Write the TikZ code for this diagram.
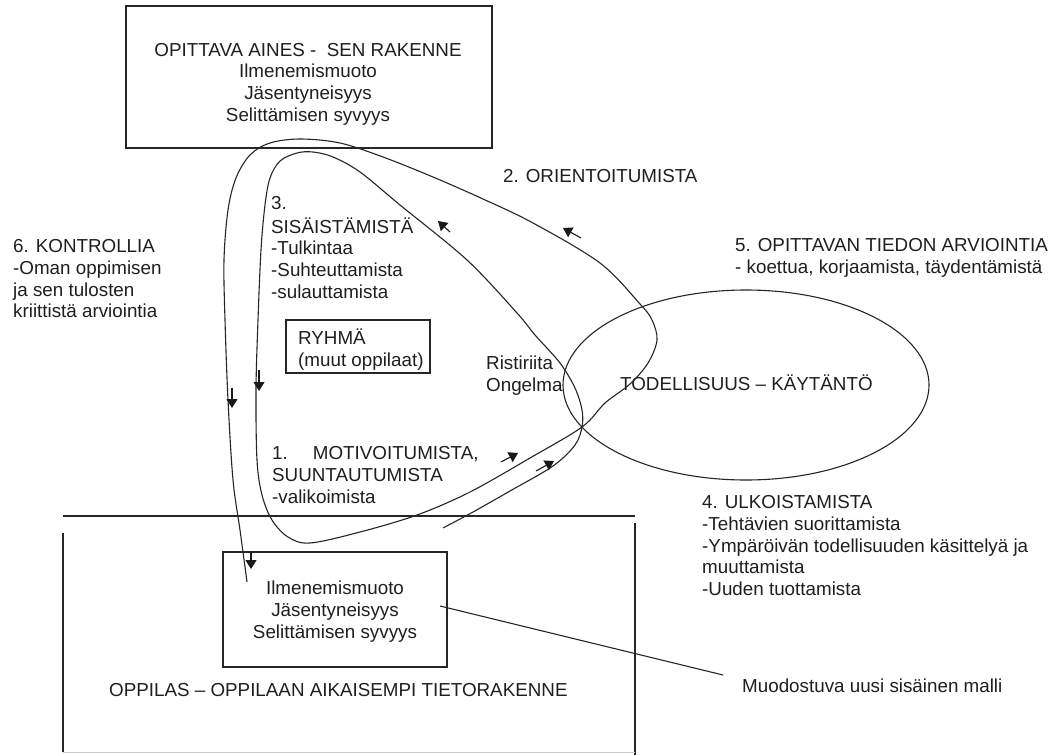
\documentclass[tikz,border=0pt]{standalone}
\usepackage{fontspec}
\setmainfont{Liberation Sans}
\usetikzlibrary{arrows.meta,shapes.geometric}
\begin{document}
\begin{tikzpicture}[x=1pt,y=-1pt,
  txt/.style={inner sep=0pt, font=\fontsize{18.8}{21.7}\selectfont, text=black!88},
  lbox/.style={draw=black!85, line width=1.3pt, inner sep=0pt},
  crv/.style={draw=black!85, line width=1.1pt},
  arr/.style={draw=black!90, line width=1.1pt, -{Triangle[width=11pt,length=9pt]}},
]
\useasboundingbox (0,0) rectangle (1055,755);
\fill[white] (0,0) rectangle (1055,755);

% boxes
\node[lbox, minimum width=366pt, minimum height=142pt] (topbox) at (309,77) {};
\node[lbox, minimum width=224pt, minimum height=115pt] (innerbox) at (335,609.5) {};
\node[lbox, minimum width=144pt, minimum height=53pt] (ryhbox) at (358,346.5) {};
\node[draw=black!85, line width=1.1pt, ellipse, inner sep=0pt, minimum width=366pt, minimum height=190pt] (real) at (746,385) {};

% big lower box (open frame)
\coordinate (bt1) at (63,516); \coordinate (bt2) at (635,516);
\coordinate (bl1) at (63,533); \coordinate (bl2) at (63,752);
\coordinate (br1) at (635,523); \coordinate (br2) at (635,755);
\draw[lbox] (bt1) -- (bt2);
\draw[lbox] (bl1) -- (bl2);
\draw[lbox] (br1) -- (br2);
\draw[draw=black!20, line width=1pt] (bl2) -- (635,752);

% texts
\node[txt, align=center] (toptxt) at (308,84.4) {\strut OPITTAVA AINES - \ SEN RAKENNE\\Ilmenemismuoto\\Jäsentyneisyys\\Selittämisen syvyys\strut};
\node[txt, align=center] (innertxt) at (335,612) {\strut Ilmenemismuoto\\Jäsentyneisyys\\Selittämisen syvyys\strut};
\node[txt, anchor=west] (ori) at (503,178) {\strut 2. ORIENTOITUMISTA};
\node[txt, anchor=north west, align=left] (sis) at (271,194.5) {\strut 3.\\SISÄISTÄMISTÄ\\-Tulkintaa\\-Suhteuttamista\\-sulauttamista};
\node[txt, anchor=north west, align=left] (kon) at (13,237.5) {\strut 6. KONTROLLIA\\-Oman oppimisen\\ja sen tulosten\\kriittistä arviointia};
\node[txt, anchor=north west, align=left] (arv) at (735,236.5) {\strut 5. OPITTAVAN TIEDON ARVIOINTIA\\- koettua, korjaamista, täydentämistä};
\node[txt, anchor=north west, align=left] (ryh) at (298,328.5) {\strut RYHMÄ\\(muut oppilaat)};
\node[txt, anchor=north west, align=left] (ris) at (486,354.5) {\strut Ristiriita\\Ongelma};
\node[txt, anchor=west] (tod) at (620,385.4) {\strut TODELLISUUS – KÄYTÄNTÖ};
\node[txt, anchor=north west, align=left] (mot) at (272,444.5) {\strut 1.\hspace{25pt}MOTIVOITUMISTA,\\SUUNTAUTUMISTA\\-valikoimista};
\node[txt, anchor=north west, align=left] (ulk) at (702,493.5) {\strut 4. ULKOISTAMISTA\\-Tehtävien suorittamista\\-Ympäröivän todellisuuden käsittelyä ja\\muuttamista\\-Uuden tuottamista};
\node[txt, anchor=west] (opp) at (109,692.4) {\strut OPPILAS – OPPILAAN AIKAISEMPI TIETORAKENNE};
\node[txt, anchor=west] (muo) at (742,688) {\strut Muodostuva uusi sisäinen malli};

% connector to new model
\coordinate (ls) at (440,606);
\coordinate (le) at (723,675);
\draw[crv] (ls) -- (le);

% the learning loop
\draw[crv] plot[smooth, tension=0.55] coordinates {
 (443,528) (473,512) (510,491) (553,466) (575,445) (582,427)
 (582,410) (575,388) (560,363) (535,335) (517,313) (467,260) (400,205)
 (360,172) (333,157) (313,152) (297,153) (280,161) (270,178) (265,205)
 (261,250) (258,320) (256,390) (257,460) (262,495) (272,520) (288,537)
 (310,543) (360,532) (417,515) (470,492) (530,458) (582,427)
 (605,403) (630,384) (648,363) (657,340) (652,320) (640,304) (600,263)
 (533,223) (483,199) (433,177) (383,157) (340,143) (300,139) (270,143)
 (250,155) (236,178) (228,210) (224,260) (225,320) (228,400) (233,480)
 (240,530) (247,582)};

% direction arrows
\coordinate (a1s) at (450,232); \coordinate (a1e) at (438,221);
\coordinate (a2s) at (581,238); \coordinate (a2e) at (563,228);
\coordinate (a3s) at (232,388); \coordinate (a3e) at (232,408);
\coordinate (a4s) at (259,370); \coordinate (a4e) at (259,391);
\coordinate (a5s) at (251,552); \coordinate (a5e) at (251,569);
\coordinate (a6s) at (501,462); \coordinate (a6e) at (518,453);
\coordinate (a7s) at (536,471); \coordinate (a7e) at (554,461);
\draw[arr] (a1s) -- (a1e);
\draw[arr] (a2s) -- (a2e);
\draw[arr] (a3s) -- (a3e);
\draw[arr] (a4s) -- (a4e);
\draw[arr] (a5s) -- (a5e);
\draw[arr] (a6s) -- (a6e);
\draw[arr] (a7s) -- (a7e);
\end{tikzpicture}
\end{document}
